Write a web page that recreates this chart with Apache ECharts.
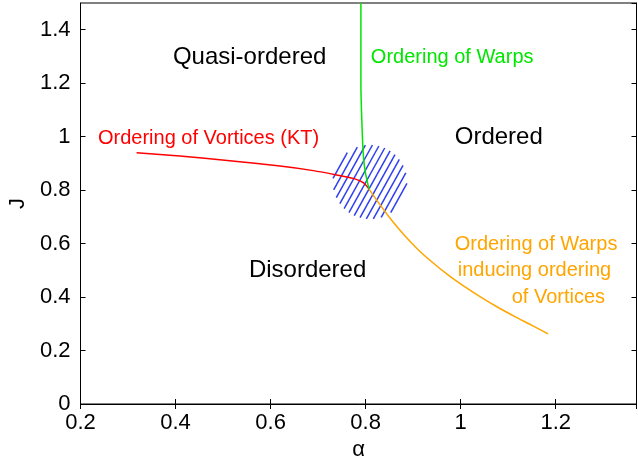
<!DOCTYPE html>
<html>
<head>
<meta charset="utf-8">
<script src="https://cdn.jsdelivr.net/npm/echarts@6/dist/echarts.min.js"></script>
<style>
    html, body {margin:0; padding:0; background:#fff;}
    #phase {width:638px; height:461px;}
</style>
</head>
<body>
<div id="phase"></div>
<script>
// transition lines, [alpha, J]
var vortexKT = [[0.318,0.940],[0.409,0.928],[0.514,0.910],[0.620,0.890],[0.690,0.873],
                [0.739,0.857],[0.774,0.844],[0.795,0.828],[0.807,0.805]];
var warpLine = [[0.790,1.5],[0.790,1.2],[0.7935,0.988],[0.796,0.913],[0.7998,0.863],[0.807,0.805]];
var warpInduced = [[0.807,0.805],[0.826,0.756],[0.854,0.689],[0.882,0.630],[0.910,0.578],
                   [0.939,0.532],[0.974,0.482],[1.009,0.438],[1.044,0.398],[1.079,0.361],
                   [1.114,0.327],[1.149,0.295],[1.184,0.262]];
// hatched region: centre and radius (alpha units)
var blob = [0.809, 0.8305, 0.078];

var xTicks = [0.2, 0.4, 0.6, 0.8, 1, 1.2];
var yTicks = [0, 0.2, 0.4, 0.6, 0.8, 1, 1.2, 1.4];

// region names and curve labels
var regionLabels = [
    ['Quasi-ordered', 0.3945, 1.298],
    ['Ordered', 0.9875, 0.999],
    ['Disordered', 0.5544, 0.501]
];
var greenLabels = [['Ordering of Warps', 0.811, 1.298]];
var redLabels = [['Ordering of Vortices (KT)', 0.2368, 0.995]];
var orangeLabels = [
    ['Ordering of Warps', 0.9875, 0.595],
    ['inducing ordering', 0.9938, 0.501],
    ['of Vortices', 1.1074, 0.400]
];

var FONT = '"Liberation Sans", Arial, Helvetica, sans-serif';

// plain text at data coordinates, left edge at the point
function textSeries(list, color, size) {
    return {
        type:'custom',
        silent:true,
        data:list.map(function (t) { return [t[1], t[2]]; }),
        renderItem:function (params, api) {
            var p = api.coord([api.value(0), api.value(1)]);
            return {
                type:'text',
                x:p[0], y:p[1],
                style:{
                    text:list[params.dataIndex][0],
                    fill:color,
                    font:size + 'px ' + FONT,
                    textAlign:'left',
                    textVerticalAlign:'middle'
                }
            };
        }
    };
}

function lineSeries(data, color) {
    return {
        type:'line',
        data:data,
        smooth:0.25,
        symbol:'none',
        silent:true,
        lineStyle:{color:color, width:1.5}
    };
}

var chart = echarts.init(document.getElementById('phase'));

var axisCommon = {
    axisLine:{show:true, lineStyle:{color:'#000', width:1}},
    axisTick:{show:true, inside:true, length:5, lineStyle:{color:'#000'}},
    splitLine:{show:false}
};

chart.setOption({
    animation:false,
    grid:{left:80.5, right:1.5, top:3, bottom:57, outerBoundsMode:'none',
          show:true, borderColor:'#000', borderWidth:1},
    xAxis:[
        Object.assign({
            type:'value', min:0.2, max:1.37, interval:0.2,
            name:'α', nameLocation:'middle', nameGap:25,
            nameTextStyle:{color:'#000', fontSize:22, fontFamily:FONT},
            axisLabel:{
                color:'#000', fontSize:22, fontFamily:FONT, margin:8,
                showMaxLabel:false,
                formatter:function (v) { return xTicks.indexOf(+v.toFixed(2)) >= 0 ? +v.toFixed(2) : ''; }
            }
        }, axisCommon),
        Object.assign({
            type:'value', min:0.2, max:1.37, interval:0.2, position:'top',
            axisLabel:{show:false}
        }, axisCommon)
    ],
    yAxis:[
        Object.assign({
            type:'value', min:0, max:1.5, interval:0.2,
            name:'J', nameLocation:'middle', nameGap:52,
            nameTextStyle:{color:'#000', fontSize:22, fontFamily:FONT},
            axisLabel:{
                color:'#000', fontSize:22, fontFamily:FONT, margin:10,
                showMaxLabel:false,
                formatter:function (v) { return yTicks.indexOf(+v.toFixed(2)) >= 0 ? +v.toFixed(2) : ''; }
            }
        }, axisCommon),
        Object.assign({
            type:'value', min:0, max:1.5, interval:0.2, position:'right',
            axisLabel:{show:false}
        }, axisCommon)
    ],
    series:[
        {
            // hatched circle round the multicritical point
            type:'custom',
            silent:true,
            data:[blob],
            renderItem:function (params, api) {
                var c = api.coord([api.value(0), api.value(1)]);
                var r = api.size([api.value(2), 0])[0];
                var ang = 61 * Math.PI / 180;
                var u = [Math.cos(ang), -Math.sin(ang)];
                var n = [Math.sin(ang), Math.cos(ang)];
                var step = 6.1;
                var kids = [];
                for (var d = -r + step / 2; d < r; d += step) {
                    var h = Math.sqrt(r * r - d * d);
                    kids.push({
                        type:'line',
                        shape:{
                            x1:c[0] + d * n[0] - h * u[0], y1:c[1] + d * n[1] - h * u[1],
                            x2:c[0] + d * n[0] + h * u[0], y2:c[1] + d * n[1] + h * u[1]
                        },
                        style:{stroke:'#2f3ff0', lineWidth:1.5}
                    });
                }
                return {type:'group', children:kids};
            }
        },
        lineSeries(vortexKT, '#ff0000'),
        lineSeries(warpLine, '#00e600'),
        lineSeries(warpInduced, '#ffa500'),
        textSeries(regionLabels, '#000', 24),
        textSeries(greenLabels, '#00e600', 20),
        textSeries(redLabels, '#ff0000', 20),
        textSeries(orangeLabels, '#ffa500', 20)
    ]
});
</script>
</body>
</html>
